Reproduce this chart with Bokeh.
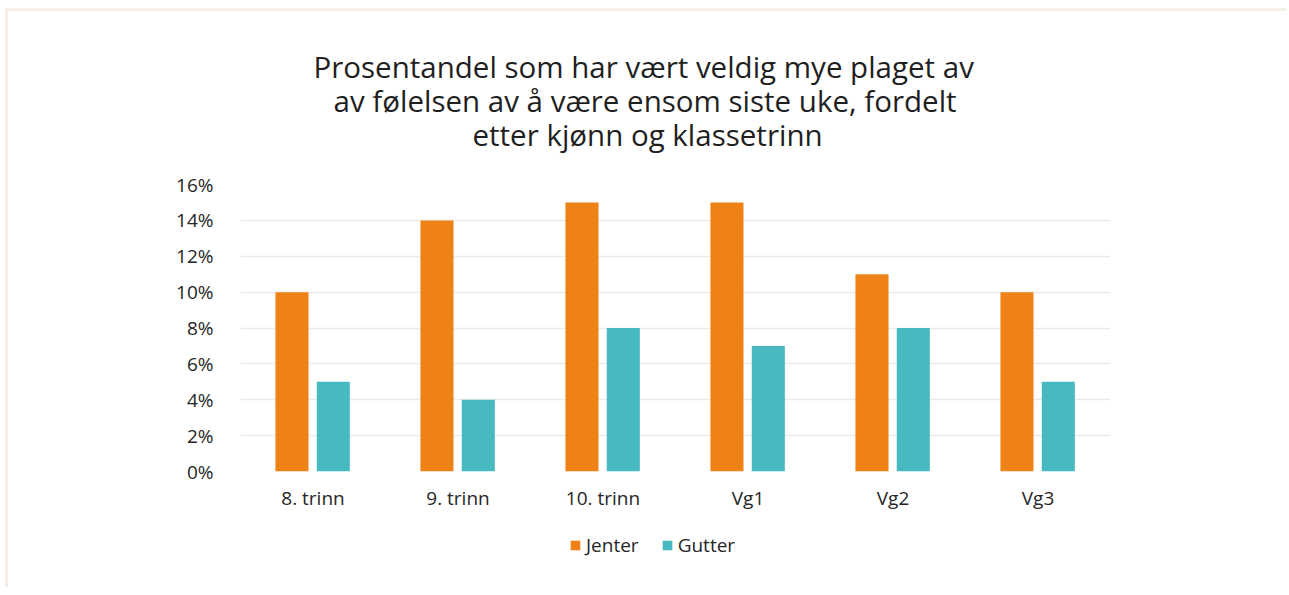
from bokeh.plotting import figure
from bokeh.layouts import column
from bokeh.models import (ColumnDataSource, FactorRange, Range1d, FixedTicker,
                          PrintfTickFormatter, Title, Legend, LegendItem)
from bokeh.transform import dodge
from bokeh.embed import file_html
from bokeh.resources import INLINE

categories = ["8. trinn", "9. trinn", "10. trinn", "Vg1", "Vg2", "Vg3"]
jenter = [10, 14, 15, 15, 11, 10]
gutter = [5, 4, 8, 7, 8, 5]
y_ticks = [0, 2, 4, 6, 8, 10, 12, 14, 16]
series_names = ["Jenter", "Gutter"]
title_lines = ["Prosentandel som har vært veldig mye plaget av",
               "av følelsen av å være ensom siste uke, fordelt",
               "etter kjønn og klassetrinn"]
title_offsets = [73, 93, 232]

FONT = "Open Sans"
ORANGE = "#EE8216"
TEAL = "#47B9C0"
TXT = "#262626"

src = ColumnDataSource(dict(cat=categories, jenter=jenter, gutter=gutter))
x_range = FactorRange(*categories, range_padding=0)
y_range = Range1d(0, 16)

p = figure(width=1278, height=514, x_range=x_range, y_range=y_range,
           output_backend="svg", toolbar_location=None,
           min_border_left=232, min_border_right=176, min_border_top=173,
           min_border_bottom=54)
p.outline_line_color = None
p.background_fill_color = "white"
p.border_fill_color = "white"

r1 = p.vbar(x=dodge("cat", -0.145, range=x_range), top="jenter", width=0.228,
            source=src, fill_color=ORANGE, line_color=None)
r2 = p.vbar(x=dodge("cat", 0.14, range=x_range), top="gutter", width=0.228,
            source=src, fill_color=TEAL, line_color=None)

p.yaxis.ticker = FixedTicker(ticks=y_ticks)
p.yaxis.formatter = PrintfTickFormatter(format="%d%%")
for ax in (p.xaxis[0], p.yaxis[0]):
    ax.axis_line_color = None
    ax.major_tick_line_color = None
    ax.minor_tick_line_color = None
    ax.major_label_text_font = FONT
    ax.major_label_text_font_size = "19px"
    ax.major_label_text_color = TXT
p.yaxis.major_label_standoff = 21
p.xaxis.major_label_standoff = 7

p.xgrid.grid_line_color = None
p.ygrid.grid_line_color = "#EBEBEB"
p.ygrid.grid_line_width = 1.5
p.ygrid.ticker = FixedTicker(ticks=y_ticks)

# spacer between frame and title block
p.add_layout(Title(text=" ", text_font_size="1px", standoff=31), "above")
# title lines: added nearest-to-frame first
for line, off in zip(reversed(title_lines), reversed(title_offsets)):
    p.add_layout(Title(text=line, align="left", offset=off, standoff=-9,
                       text_font=FONT, text_font_size="29.5px", text_font_style="normal",
                       text_color="#1F1F1F"), "above")

# legend strip (same frame geometry as the chart, hidden proxy renderers)
lg = figure(width=1278, height=62, x_range=x_range, y_range=y_range,
            output_backend="svg", toolbar_location=None,
            min_border_left=232, min_border_right=176, min_border_top=0,
            min_border_bottom=0)
lg.axis.visible = False
lg.grid.visible = False
lg.outline_line_color = None
lr1 = lg.vbar(x=dodge("cat", -0.145, range=x_range), top="jenter", width=0.228,
              source=src, fill_color=ORANGE, line_color=None, visible=False)
lr2 = lg.vbar(x=dodge("cat", 0.14, range=x_range), top="gutter", width=0.228,
              source=src, fill_color=TEAL, line_color=None, visible=False)
legend = Legend(items=[LegendItem(label=series_names[0], renderers=[lr1]),
                       LegendItem(label=series_names[1], renderers=[lr2])],
                orientation="horizontal", location=(329, 29),
                glyph_width=12, glyph_height=12, label_height=12,
                label_standoff=5, spacing=22, padding=0, margin=0,
                border_line_color=None, background_fill_alpha=0,
                label_text_font=FONT, label_text_font_size="19px",
                label_text_color=TXT, label_text_baseline="middle")
lg.add_layout(legend, "center")

layout = column(p, lg, spacing=0)
layout.styles = {"margin-top": "8px", "margin-left": "5px",
                 "border-top": "3px solid #F4F0E8", "border-left": "3px solid #F4F0E8"}

open("out.html", "w").write(file_html(layout, INLINE))
